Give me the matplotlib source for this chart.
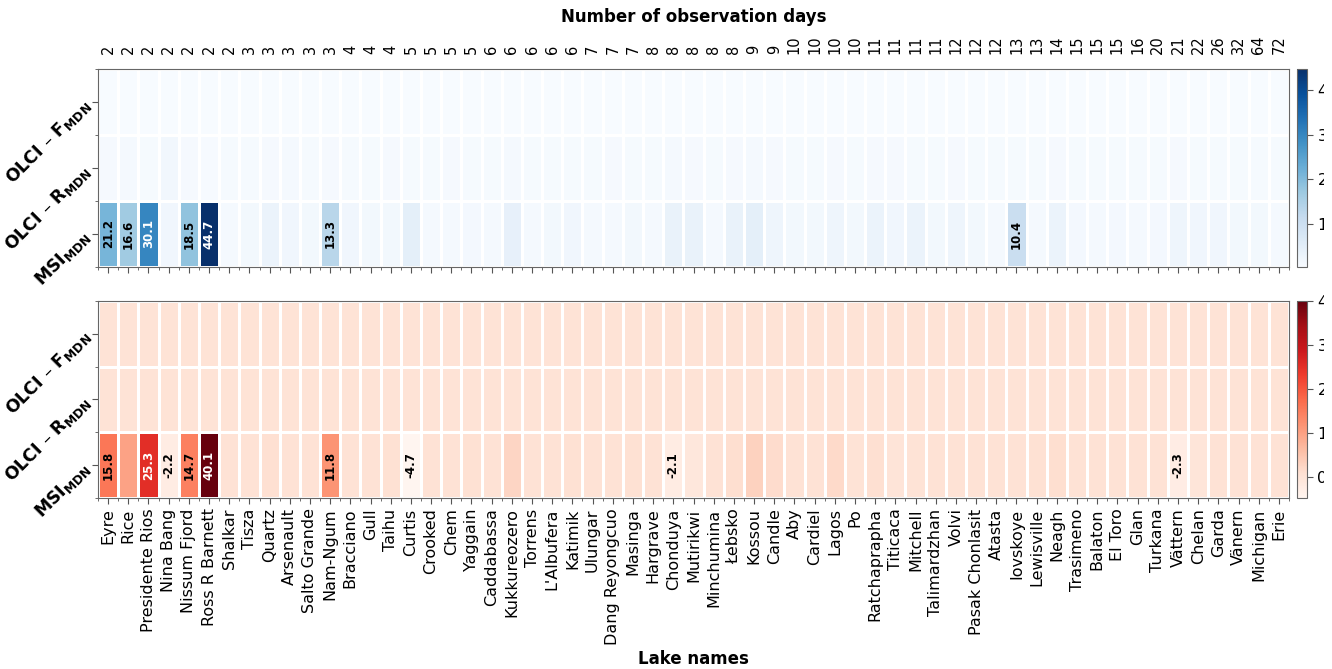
import numpy as np
import matplotlib
matplotlib.use("Agg")
import matplotlib.pyplot as plt
from matplotlib.colors import Normalize
from matplotlib.transforms import Bbox

plt.rcParams['mathtext.fontset'] = 'dejavusans'

lakes = ["Eyre", "Rice", "Presidente Rios", "Nina Bang", "Nissum Fjord", "Ross R Barnett",
         "Shalkar", "Tisza", "Quartz", "Arsenault", "Salto Grande", "Nam-Ngum", "Bracciano",
         "Gull", "Taihu", "Curtis", "Crooked", "Chem", "Yaggain", "Caddabassa", "Kukkureozero",
         "Torrens", "L'Albufera", "Katimik", "Ulungar", "Dang Reyongcuo", "Masinga", "Hargrave",
         "Chonduya", "Mutirikwi", "Minchumina", "Łebsko", "Kossou", "Candle", "Aby", "Cardiel",
         "Lagos", "Po", "Ratchaprapha", "Titicaca", "Mitchell", "Talimardzhan", "Volvi",
         "Pasak Chonlasit", "Atasta", "Iovskoye", "Lewisville", "Neagh", "Trasimeno", "Balaton",
         "El Toro", "Glan", "Turkana", "Vättern", "Chelan", "Garda", "Vänern", "Michigan", "Erie"]

obs_days = [2, 2, 2, 2, 2, 2, 2, 3, 3, 3, 3, 3, 4, 4, 4, 5, 5, 5, 5, 6, 6, 6, 6, 6, 7, 7, 7,
            8, 8, 8, 8, 8, 9, 9, 10, 10, 10, 10, 11, 11, 11, 11, 12, 12, 12, 13, 13, 14, 15,
            15, 15, 16, 20, 21, 22, 26, 32, 64, 72]

row_labels = [r"OLCI – F$_{\mathbf{MDN}}$", r"OLCI – R$_{\mathbf{MDN}}$", r"MSI$_{\mathbf{MDN}}$"]

# top panel (blue)
blue_olci_f = [0.3] * 59
blue_olci_r = [0.9, 1.0, 0.8, 1.8, 0.9, 0.6, 0.8, 0.8, 0.9, 1.0, 0.8, 0.9, 0.8, 0.8, 0.9,
               0.8, 0.8, 0.9, 0.8, 0.8, 1.0, 0.8, 0.8, 0.8, 0.8, 0.9, 0.8, 0.8, 1.0, 0.9,
               0.8, 0.9, 1.0, 0.9, 0.8, 0.8, 0.9, 0.8, 0.9, 0.9, 0.8, 0.8, 0.9, 0.8, 0.8,
               0.8, 0.8, 0.9, 0.8, 0.8, 0.8, 0.8, 0.8, 0.9, 0.8, 0.8, 0.8, 0.8, 0.8]
blue_msi = [21.2, 16.6, 30.1, 2.0, 18.5, 44.7, 1.0, 1.5, 3.0, 2.0, 1.5, 13.3, 2.0, 1.5, 1.5,
            4.5, 1.0, 1.0, 1.2, 1.0, 4.0, 1.0, 1.5, 2.0, 1.0, 1.0, 1.5, 1.0, 3.5, 3.5,
            1.0, 3.5, 4.5, 2.5, 1.5, 1.5, 2.5, 1.5, 3.0, 2.0, 3.0, 1.5, 2.5, 1.5, 1.0,
            10.4, 1.0, 3.0, 1.2, 1.0, 1.2, 1.0, 1.2, 2.5, 2.0, 2.0, 1.5, 1.5, 1.0]

# bottom panel (red)
red_olci_f = [0.3] * 59
red_olci_r = [0.3] * 59
red_msi = [15.8, 10.0, 25.3, -2.2, 14.7, 40.1, 0.5, 0.5, 1.0, 0.5, 0.5, 11.8, 0.5, 0.5, 0.8,
           -4.7, 0.5, 0.5, 0.8, 0.5, 2.5, 0.5, 0.5, 0.8, 0.5, 0.5, 0.8, 0.5, -2.1, -1.0,
           0.5, 1.2, 3.0, 1.5, 0.5, 0.5, 1.8, 0.3, 1.0, 0.0, 0.3, 0.5, 0.5, 0.5, 0.5,
           0.5, 0.8, 1.2, 0.5, 0.5, 0.5, 0.5, 0.5, -2.3, -0.5, 0.5, 0.5, 0.5, 0.5]


def draw_panel(ax, cax, data, cmap, ticks):
    data = np.array(data)
    norm = Normalize(vmin=data.min(), vmax=data.max())
    nr, nc = data.shape
    mesh = ax.pcolormesh(np.arange(nc + 1), np.arange(nr + 1), data, cmap=cmap, norm=norm,
                         edgecolors='white', linewidth=0.9)
    ax.set_xlim(0, nc)
    ax.set_ylim(nr, 0)
    # annotate the larger values
    for i in range(nr):
        for j in range(nc):
            v = data[i, j]
            if v >= 10.3 or v <= -2:
                col = 'white' if norm(v) > 0.55 else 'black'
                ax.text(j + 0.5, i + 0.5, f"{v:.1f}", rotation=90, ha='center', va='center',
                        fontsize=8.5, fontweight='bold', color=col)
    ax.set_xticks(np.arange(nc) + 0.5)
    ax.set_xticks(np.arange(nc + 1), minor=True)
    ax.set_yticks(np.arange(nr) + 0.5)
    ax.set_yticks(np.arange(nr + 1), minor=True)
    ax.set_yticklabels(row_labels, rotation=45, ha='right', va='center',
                       rotation_mode='anchor', fontsize=12.5, fontweight='bold')
    ax.tick_params(which='major', length=4, color='#555555')
    ax.tick_params(which='minor', length=2, color='#555555')
    for s in ax.spines.values():
        s.set_edgecolor('#666666')
    cb = plt.colorbar(mesh, cax=cax, ticks=ticks)
    cb.outline.set_edgecolor('#666666')
    cax.tick_params(labelsize=11.5, length=4, color='#555555')
    return cb


fig = plt.figure(figsize=(13.32, 6.69), dpi=100)
ax1 = fig.add_axes([0.0736, 0.6009, 0.8941, 0.2960])
cax1 = fig.add_axes([0.9737, 0.6009, 0.0075, 0.2960])
ax2 = fig.add_axes([0.0736, 0.2556, 0.8941, 0.2945])
cax2 = fig.add_axes([0.9737, 0.2556, 0.0075, 0.2945])

draw_panel(ax1, cax1, [blue_olci_f, blue_olci_r, blue_msi], 'Blues', [10, 20, 30, 40])
draw_panel(ax2, cax2, [red_olci_f, red_olci_r, red_msi], 'Reds', [0, 10, 20, 30, 40])

ax1.set_xticklabels([str(d) for d in obs_days], rotation=90, fontsize=10.5)
ax1.tick_params(axis='x', which='major', labeltop=True, labelbottom=False, pad=7)
ax1.tick_params(axis='x', which='both', top=False)
fig.text(0.5206, 1 - 17 / 669, "Number of observation days", ha='center', va='center',
         fontsize=12, fontweight='bold')

ax2.set_xticklabels(lakes, rotation=90, fontsize=11.5)
fig.text(0.5206, 1 - 659 / 669, "Lake names", ha='center', va='center',
         fontsize=12, fontweight='bold')

# the reference is cropped just past the first digit of the colorbar labels
fig.canvas.draw()
clip = Bbox.from_extents(0, 0, 1324, 669)
for cax in (cax1, cax2):
    for lab in cax.get_yticklabels():
        lab.set_clip_box(clip)
        lab.set_clip_on(True)

fig.savefig("out.png", dpi=100)
